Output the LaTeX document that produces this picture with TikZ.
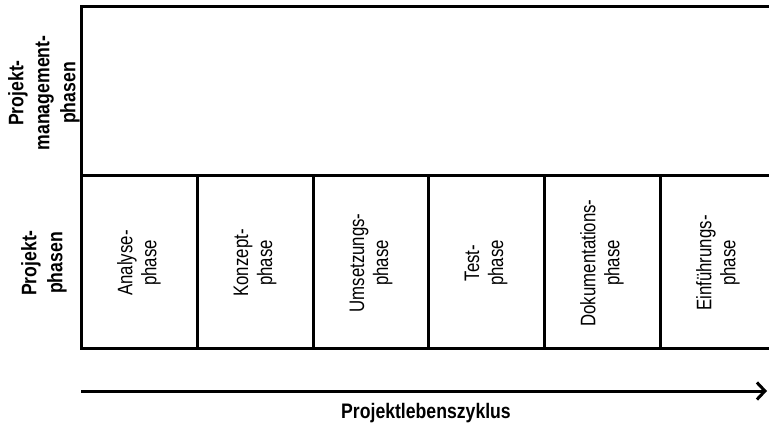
\documentclass[tikz,border=0pt]{standalone}
\usepackage{fontspec}
\setmainfont{Liberation Sans}[FakeStretch=0.8]
\newfontfamily\boldcond{Liberation Sans}[FakeStretch=0.84]
\usetikzlibrary{arrows.meta}

\begin{document}
\begin{tikzpicture}[x=1pt,y=-1pt]

	\tikzstyle frame lines=[line width=3pt];
	\tikzstyle phase label=[rotate=90,align=center,font=\fontsize{21}{24}\selectfont];
	\tikzstyle side label=[rotate=90,align=center,font=\boldcond\bfseries\fontsize{21}{26}\selectfont];

	\useasboundingbox (0,0) rectangle (769,425);

	\draw[frame lines] (769,7) -- (81,7) -- (81,348) -- (769,348);
	\draw[frame lines] (81,176) -- (769,176);

	\foreach \x in {197,313,428,544,660}
		\draw[frame lines] (\x,176) -- (\x,348);

	\foreach \x/\label [count=\i] in {139/Analyse,255/Konzept,371/Umsetzungs,486/Test,602/Dokumentations,718/Einf\"uhrungs}
		\node[phase label] (phase\i) at (\x,263) {\label-\\phase};

	\node[side label] (pmphasen) at (44,93) {Projekt-\\management-\\phasen};
	\node[side label] (pphasen) at (44,263) {Projekt-\\phasen};

	\coordinate (start) at (81,391);
	\coordinate (end) at (767,391);
	\draw[frame lines,-{Straight Barb[length=8pt,width=17pt]}] (start) -- (end);

	\node[font=\boldcond\bfseries\fontsize{21}{24}\selectfont] (zyklus) at (426,413) {Projektlebenszyklus};

\end{tikzpicture}
\end{document}
